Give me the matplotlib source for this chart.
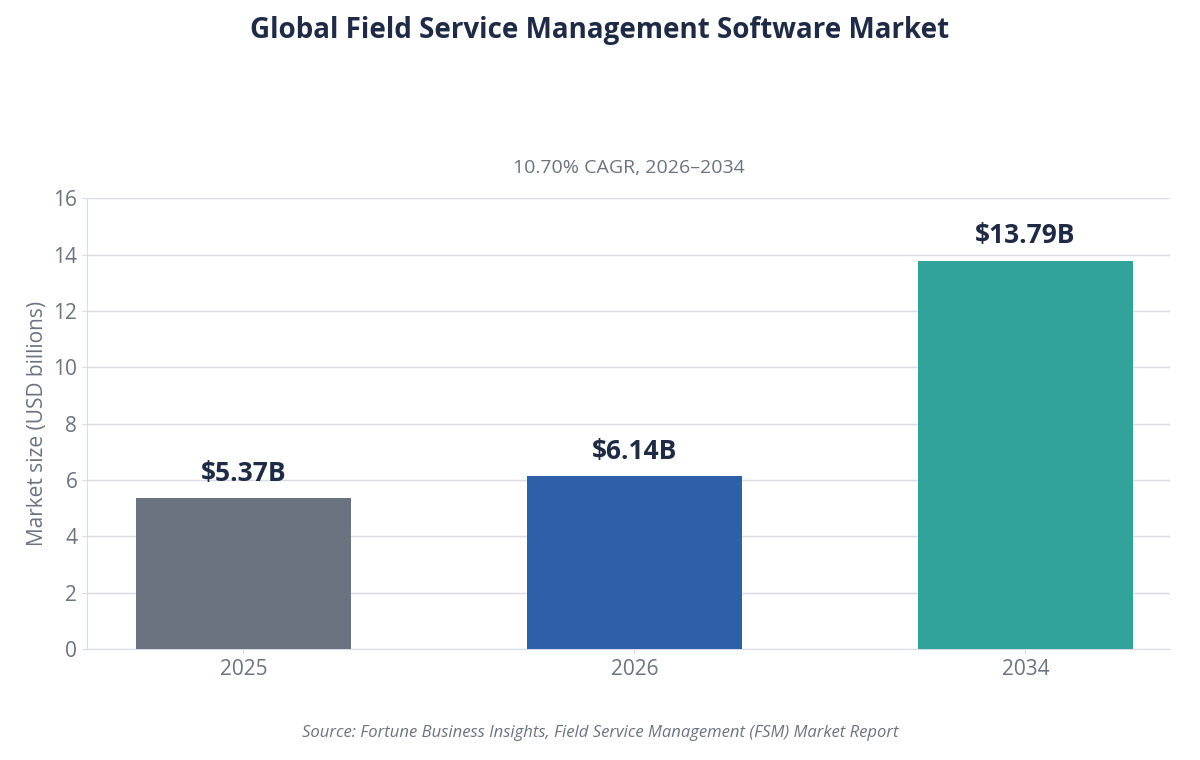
import matplotlib
matplotlib.use("Agg")
import matplotlib.pyplot as plt

INK = "#1f2a44"; MUTED = "#6b7280"; GRID = "#d9dbe6"

years = ["2025", "2026", "2034"]
values = [5.37, 6.14, 13.79]
labels = ["$5.37B", "$6.14B", "$13.79B"]
colors = ["#6b7280", "#2e5fa8", "#31a39a"]
yticks = [0, 2, 4, 6, 8, 10, 12, 14, 16]

plt.rcParams["font.family"] = ["Open Sans", "Noto Sans", "DejaVu Sans"]

fig = plt.figure(figsize=(12, 7.6), dpi=100)
ax = fig.add_axes([0.0725, 0.146, 0.9025, 0.593])
x = range(len(years))
ax.bar(x, values, width=0.55, color=colors, zorder=3)
for i, (v, t) in enumerate(zip(values, labels)):
    ax.annotate(t, (i, v), xytext=(0, 8), textcoords="offset points",
                ha="center", va="bottom", fontsize=19, fontweight="bold", color=INK)
ax.set_xticks(list(x), years)
ax.set_xlim(-0.40, 2.37)
ax.set_ylim(0, 16)
ax.set_yticks(yticks)
ax.grid(axis="y", color=GRID, lw=1, zorder=0)
ax.tick_params(labelsize=15, labelcolor=MUTED, color=GRID)
for sp in ("top", "right"):
    ax.spines[sp].set_visible(False)
for sp in ("left", "bottom"):
    ax.spines[sp].set_color(GRID)
ax.set_ylabel("Market size (USD billions)", fontsize=15, color=MUTED)
ax.set_title("10.70% CAGR, 2026–2034", fontsize=14, color=MUTED, pad=18)
fig.text(0.5, 0.96, "Global Field Service Management Software Market",
         ha="center", va="center", fontsize=20, fontweight="bold", color=INK)
fig.text(0.5, 0.035, "Source: Fortune Business Insights, Field Service Management (FSM) Market Report",
         ha="center", va="center", fontsize=12, style="italic", color=MUTED)
fig.savefig("out.png")
